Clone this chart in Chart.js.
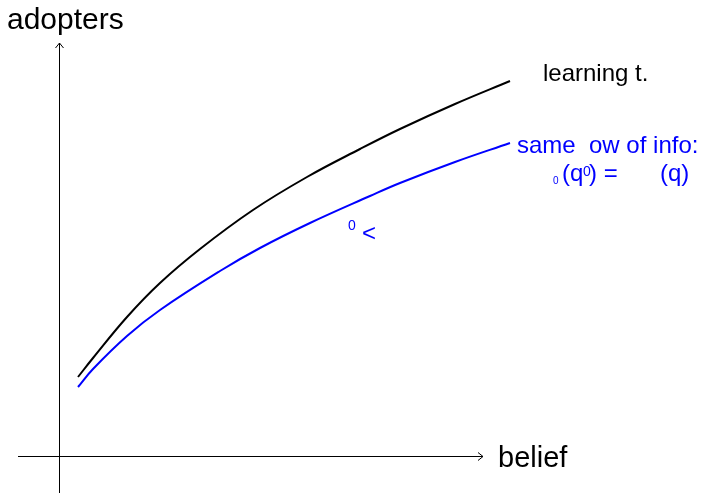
<!DOCTYPE html>
<html>
<head>
<meta charset="utf-8">
<script src="https://cdn.jsdelivr.net/npm/chart.js@4.4.0/dist/chart.umd.min.js"></script>
<style>
  html, body { margin: 0; padding: 0; background: #ffffff; }
  canvas { display: block; }
</style>
</head>
<body>
<canvas id="c" width="705" height="495"></canvas>
<script>
// Belief (x) and share of adopters (y) along each curve, in plot units.
const beliefLearning   = [0.19, 0.34, 0.68, 1.01, 1.41, 1.94, 2.48, 3.01, 3.41, 3.96, 4.51];
const adoptersLearning = [0.79, 0.98, 1.39, 1.73, 2.07, 2.46, 2.79, 3.07, 3.27, 3.52, 3.75];
const beliefSameFlow   = [0.19, 0.34, 0.68, 1.01, 1.61, 2.01, 2.51, 3.11, 3.41, 3.96, 4.51];
const adoptersSameFlow = [0.69, 0.87, 1.20, 1.46, 1.85, 2.08, 2.33, 2.60, 2.73, 2.94, 3.13];

const seriesNames = ['learning t.', 'same  ow of info:'];
const axisTitles = { x: 'belief', y: 'adopters' };

const FONT = '"Liberation Sans", Arial, Helvetica, sans-serif';
const BLUE = '#0000ff';

function pairs(xs, ys) {
  return xs.map((x, i) => ({ x: x, y: ys[i] }));
}

// Arrowed axes crossing at the origin, plus the text annotations.
const diagram = {
  id: 'diagram',
  beforeDatasetsDraw(chart) {
    const { ctx, scales: { x, y } } = chart;
    const ox = Math.round(x.getPixelForValue(0)) + 0.5;
    const oy = Math.round(y.getPixelForValue(0)) + 0.5;
    const xEnd = x.getPixelForValue(4.24), xStart = x.getPixelForValue(-0.41);
    const yEnd = y.getPixelForValue(4.13), yStart = y.getPixelForValue(-0.37);
    ctx.save();
    ctx.strokeStyle = '#000';
    ctx.lineWidth = 1;
    ctx.beginPath();
    ctx.moveTo(xStart, oy);
    ctx.lineTo(xEnd, oy);
    ctx.moveTo(ox, yStart);
    ctx.lineTo(ox, yEnd);
    // arrow heads
    ctx.moveTo(xEnd - 5, oy - 4);
    ctx.lineTo(xEnd, oy);
    ctx.lineTo(xEnd - 5, oy + 4);
    ctx.moveTo(ox - 4, yEnd + 5);
    ctx.lineTo(ox, yEnd);
    ctx.lineTo(ox + 4, yEnd + 5);
    ctx.stroke();
    ctx.restore();
  },
  afterDatasetsDraw(chart) {
    const { ctx, scales: { x, y } } = chart;
    const put = (text, dx, dy, size, color) => {
      ctx.font = size + 'px ' + FONT;
      ctx.fillStyle = color;
      ctx.textAlign = 'left';
      ctx.textBaseline = 'alphabetic';
      ctx.fillText(text, x.getPixelForValue(dx), y.getPixelForValue(dy));
    };
    ctx.save();
    put(axisTitles.y, -0.52, 4.27, 30, '#000');
    put(axisTitles.x, 4.39, -0.11, 29, '#000');
    put(seriesNames[0], 4.84, 3.75, 24, '#000');
    put(seriesNames[1], 4.58, 3.03, 24, BLUE);
    // second line of the blue label
    put('0', 4.94, 2.72, 10, BLUE);
    put('(q', 5.03, 2.75, 24, BLUE);
    put('0', 5.24, 2.80, 14, BLUE);
    put(') =', 5.30, 2.75, 24, BLUE);
    put('(q)', 6.01, 2.75, 24, BLUE);
    // note beside the blue curve
    put('0', 2.89, 2.26, 14, BLUE);
    put('<', 3.03, 2.15, 24, BLUE);
    ctx.restore();
  }
};

new Chart(document.getElementById('c'), {
  type: 'scatter',
  data: {
    datasets: [
      {
        label: seriesNames[0],
        data: pairs(beliefLearning, adoptersLearning),
        borderColor: '#000000',
        borderWidth: 2,
        showLine: true,
        pointRadius: 0,
        tension: 0.4
      },
      {
        label: seriesNames[1],
        data: pairs(beliefSameFlow, adoptersSameFlow),
        borderColor: BLUE,
        borderWidth: 2,
        showLine: true,
        pointRadius: 0,
        tension: 0.4
      }
    ]
  },
  options: {
    responsive: false,
    devicePixelRatio: 1,
    animation: false,
    layout: { padding: 0 },
    plugins: { legend: { display: false }, tooltip: { enabled: false } },
    scales: {
      x: { type: 'linear', min: -0.59, max: 6.46, display: false },
      y: { type: 'linear', min: -0.39, max: 4.56, display: false }
    }
  },
  plugins: [diagram]
});
</script>
</body>
</html>
